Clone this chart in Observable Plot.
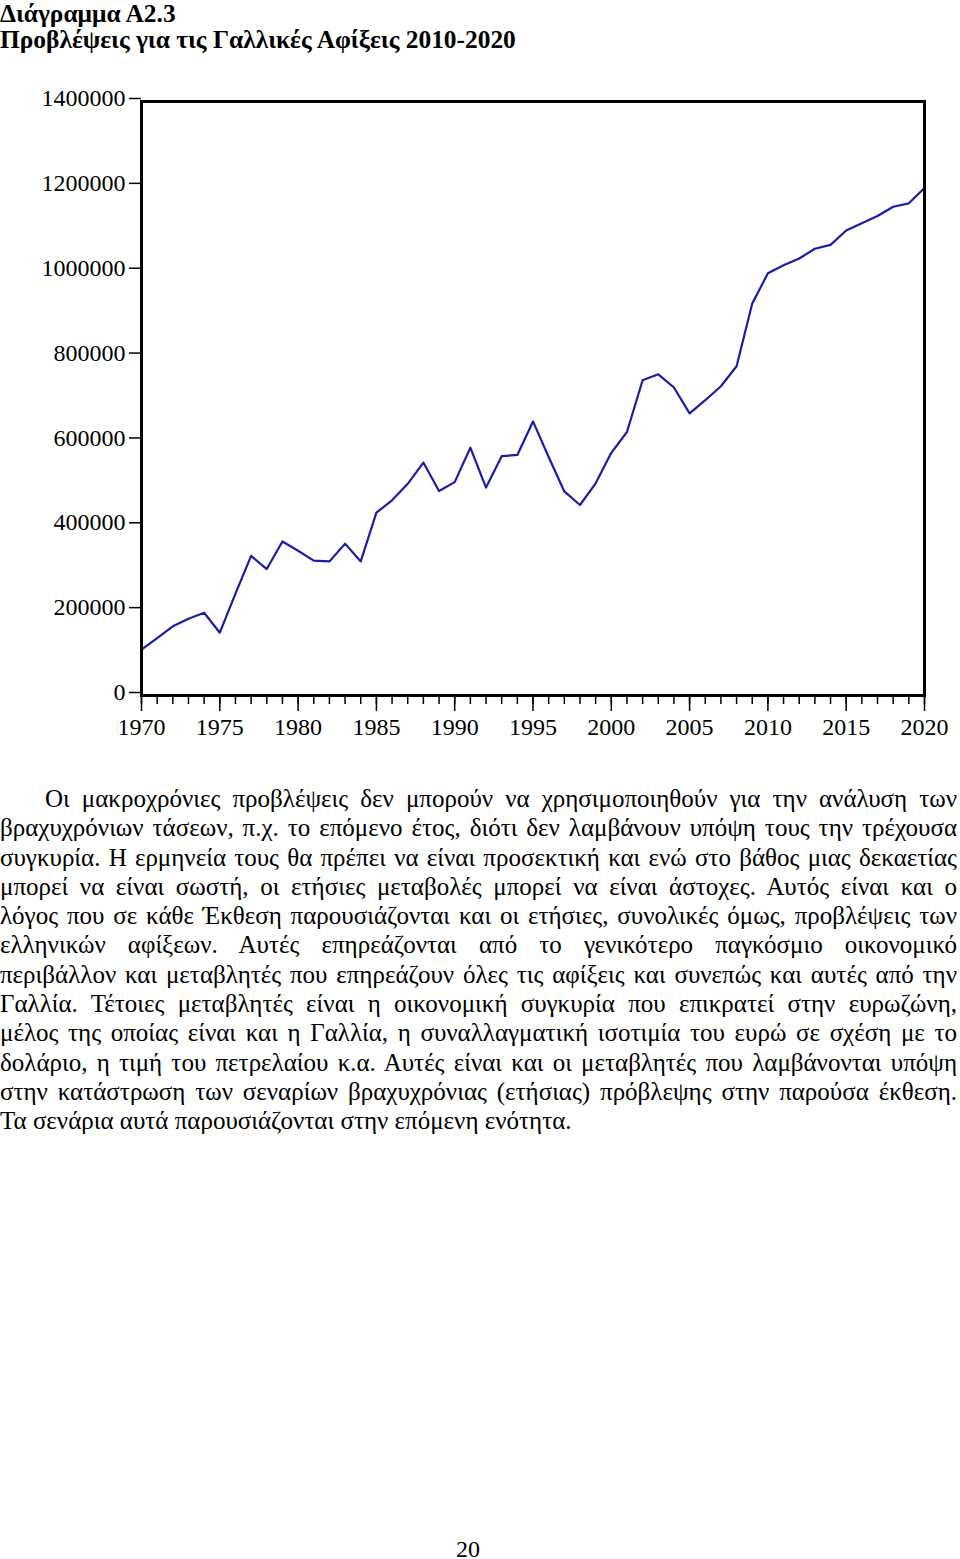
<!DOCTYPE html>
<html><head><meta charset="utf-8">
<script src="https://cdn.jsdelivr.net/npm/d3@7"></script>
<script src="https://cdn.jsdelivr.net/npm/@observablehq/plot@0.6"></script>
<style>
body{margin:0;background:#fff;width:960px;height:1559px;position:relative;font-family:"Liberation Serif","Times New Roman",serif;color:#000;overflow:hidden}
.title{position:absolute;left:0;font-weight:bold;font-size:25.4px;line-height:26px;white-space:nowrap}
#chart{position:absolute;left:0;top:60px}
#text{position:absolute;left:0;top:784px;width:957px;font-size:25px;line-height:29.3px}
#text div{white-space:nowrap;text-align:justify;text-align-last:justify}
#text div.first{padding-left:45px}
#text div.last{text-align-last:left}
#page{position:absolute;left:456px;top:1537px;font-size:24px;line-height:24px}
</style>
</head>
<body>
<div class="title" style="top:0px">Διάγραμμα Α2.3</div>
<div class="title" style="top:26px">Προβλέψεις για τις Γαλλικές Αφίξεις 2010-2020</div>
<div id="chart"></div>
<div id="text"></div>
<div id="page">20</div>
<script>
const years = [1970,1971,1972,1973,1974,1975,1976,1977,1978,1979,1980,1981,1982,1983,1984,1985,1986,1987,1988,1989,1990,1991,1992,1993,1994,1995,1996,1997,1998,1999,2000,2001,2002,2003,2004,2005,2006,2007,2008,2009,2010,2011,2012,2013,2014,2015,2016,2017,2018,2019,2020];
const arrivals = [108000,135000,163000,181000,195000,148000,240000,329000,298000,363000,341000,318000,316000,358000,316000,431000,460000,499000,549000,482000,503000,584000,490000,564000,567000,646000,562000,481000,449000,500000,572000,621000,743000,757000,726000,665000,696000,729000,776000,924000,995000,1014000,1030000,1053000,1062000,1096000,1113000,1130000,1152000,1160000,1196000];
const yTicks = [0,200000,400000,600000,800000,1000000,1200000,1400000];
const majorYears = [1970,1975,1980,1985,1990,1995,2000,2005,2010,2015,2020];
const minorYears = years;
const paragraphLines = [
  "Οι μακροχρόνιες προβλέψεις δεν μπορούν να χρησιμοποιηθούν για την ανάλυση των",
  "βραχυχρόνιων τάσεων, π.χ. το επόμενο έτος, διότι δεν λαμβάνουν υπόψη τους την τρέχουσα",
  "συγκυρία. Η ερμηνεία τους θα πρέπει να είναι προσεκτική και ενώ στο βάθος μιας δεκαετίας",
  "μπορεί να είναι σωστή, οι ετήσιες μεταβολές μπορεί να είναι άστοχες. Αυτός είναι και ο",
  "λόγος που σε κάθε Έκθεση παρουσιάζονται και οι ετήσιες, συνολικές όμως, προβλέψεις των",
  "ελληνικών αφίξεων. Αυτές επηρεάζονται από το γενικότερο παγκόσμιο οικονομικό",
  "περιβάλλον και μεταβλητές που επηρεάζουν όλες τις αφίξεις και συνεπώς και αυτές από την",
  "Γαλλία. Τέτοιες μεταβλητές είναι η οικονομική συγκυρία που επικρατεί στην ευρωζώνη,",
  "μέλος της οποίας είναι και η Γαλλία, η συναλλαγματική ισοτιμία του ευρώ σε σχέση με το",
  "δολάριο, η τιμή του πετρελαίου κ.α. Αυτές είναι και οι μεταβλητές που λαμβάνονται υπόψη",
  "στην κατάστρωση των σεναρίων βραχυχρόνιας (ετήσιας) πρόβλεψης στην παρούσα έκθεση.",
  "Τα σενάρια αυτά παρουσιάζονται στην επόμενη ενότητα."
];

const data = years.map((y, i) => ({year: y, value: arrivals[i]}));
const font = '"Liberation Serif","Times New Roman",serif';

const chart = Plot.plot({
  width: 960, height: 700,
  marginLeft: 141, marginRight: 36, marginTop: 41, marginBottom: 65,
  style: {fontFamily: font, fontSize: "24px", color: "#000", background: "transparent", overflow: "visible"},
  x: {domain: [1970, 2020]},
  y: {domain: [0, 1400000]},
  marks: [
    Plot.axisY({ticks: yTicks, tickSize: 12, tickPadding: 4, tickFormat: d => String(d), label: null, strokeWidth: 1.5, dy: -3}),
    Plot.axisX({ticks: minorYears, tickSize: 9, tickFormat: () => "", label: null, strokeWidth: 1.5}),
    Plot.axisX({ticks: majorYears, tickSize: 16, tickPadding: 6, tickFormat: d => String(d), label: null, strokeWidth: 1.5}),
    Plot.line(data, {x: "year", y: "value", stroke: "#1c1ca6", strokeWidth: 2.2}),
    Plot.frame({stroke: "#000", strokeWidth: 3})
  ]
});
document.getElementById("chart").appendChild(chart);

const textEl = document.getElementById("text");
const measure = document.createElement("span");
measure.style.cssText = "position:absolute;visibility:hidden;white-space:nowrap;font-size:25px;font-family:" + font;
document.body.appendChild(measure);
paragraphLines.forEach((line, i) => {
  const d = document.createElement("div");
  d.textContent = line;
  const avail = 957 - (i === 0 ? 45 : 0);
  if (i === 0) d.className = "first";
  if (i === paragraphLines.length - 1) d.className = "last";
  measure.textContent = line;
  const w = measure.getBoundingClientRect().width;
  if (w > avail) {
    d.style.letterSpacing = ((avail - w) / line.length) + "px";
  }
  textEl.appendChild(d);
});
measure.remove();
</script>
</body></html>
